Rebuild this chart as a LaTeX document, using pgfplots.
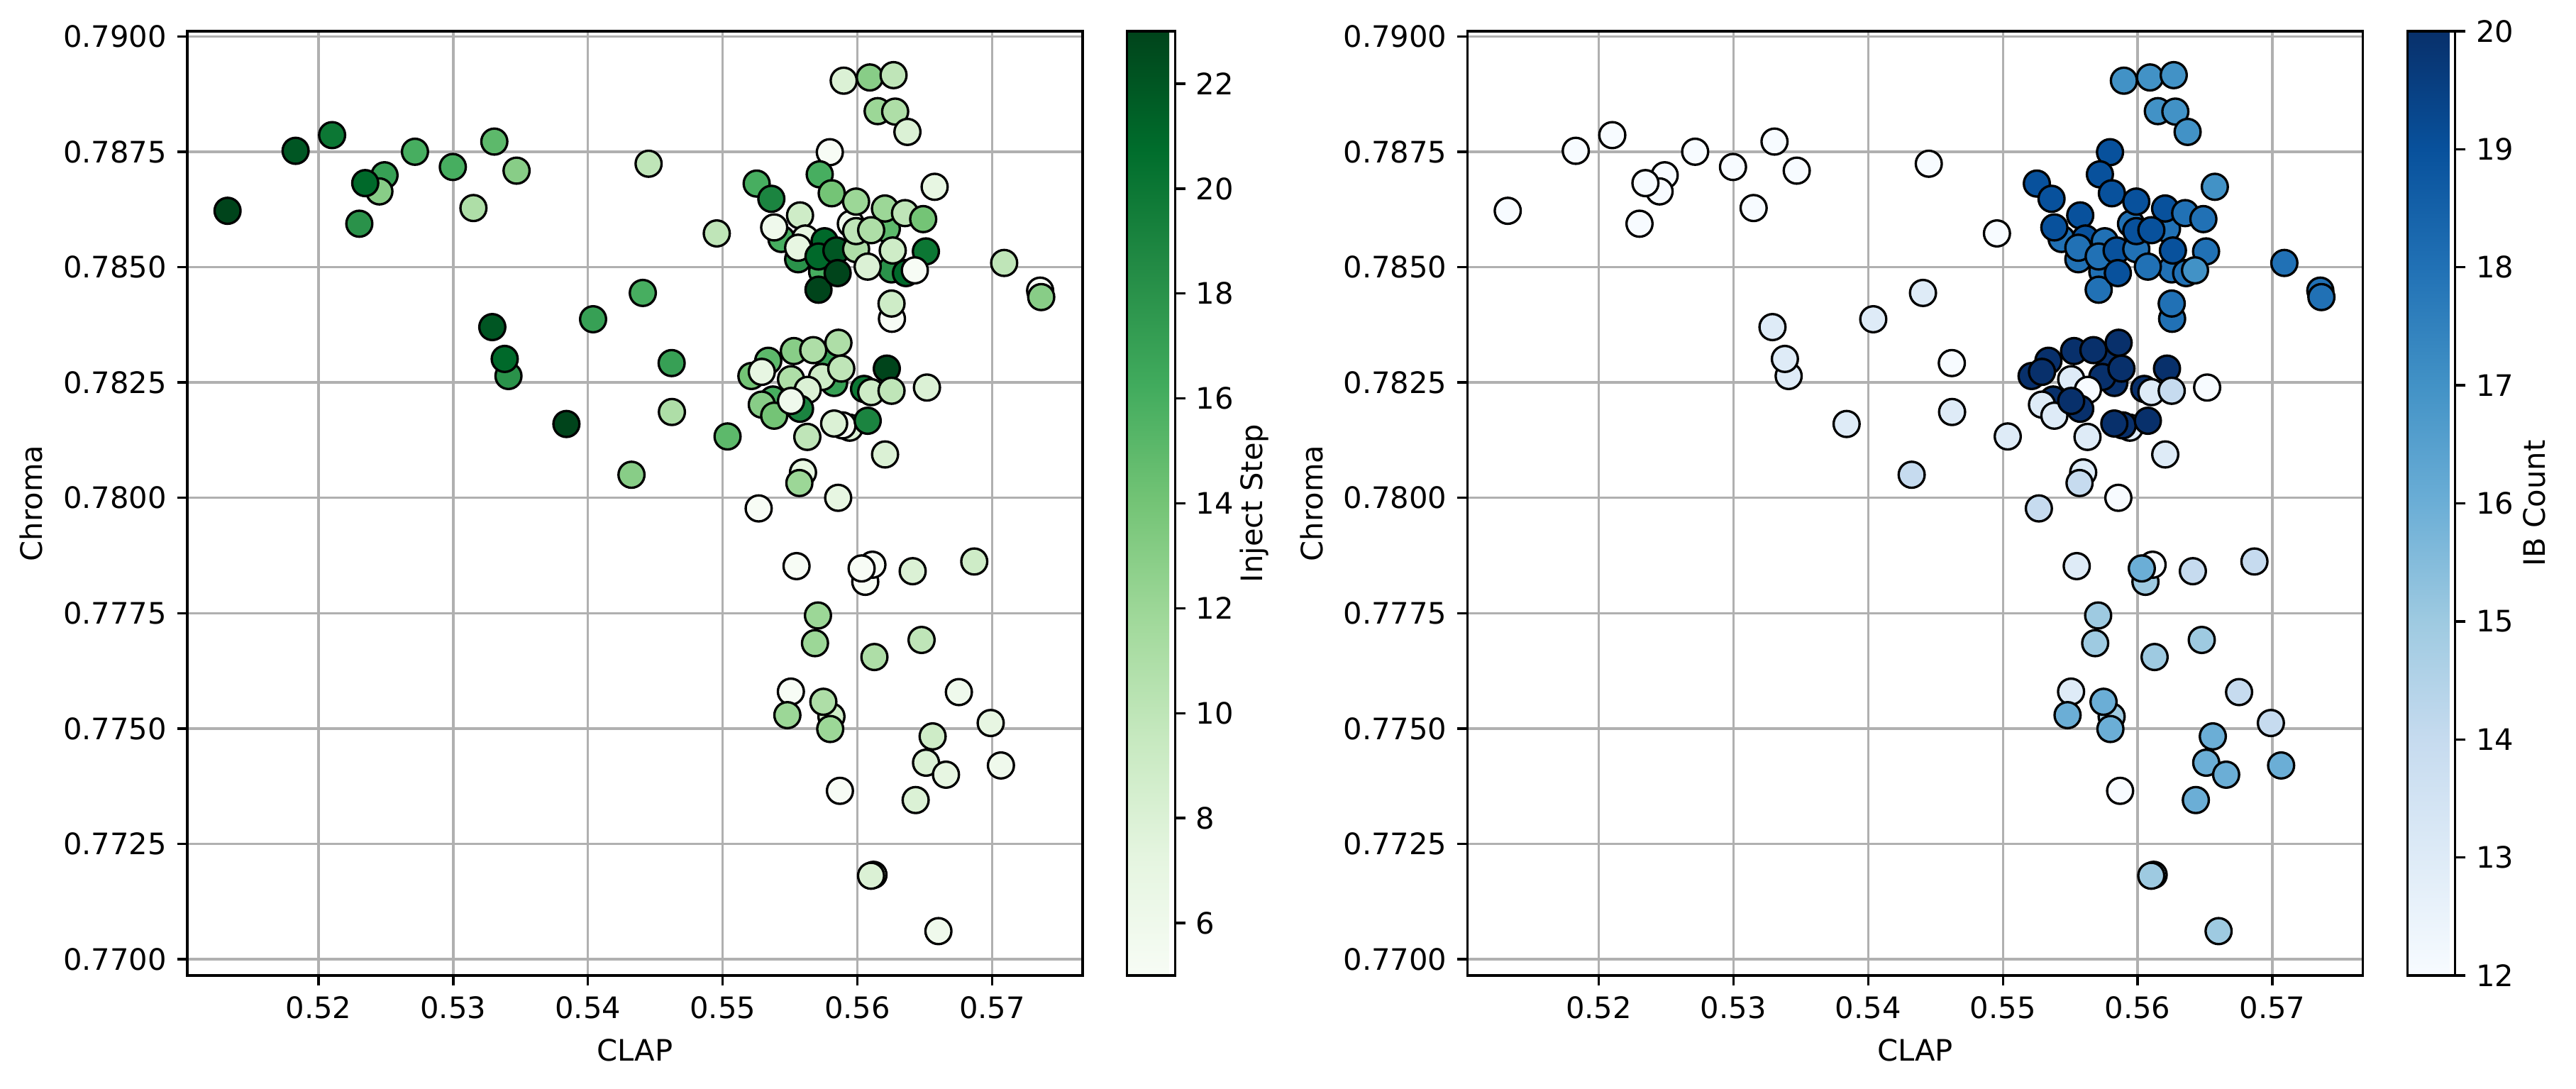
\documentclass[border=0pt]{standalone}
\usepackage{fontspec}
\setmainfont{DejaVu Sans}
\usepackage{pgfplots}
\usepackage{pgfplotstable}
\pgfplotsset{compat=1.18}

\definecolor{gridgray}{RGB}{176,176,176}

% x = CLAP, y = Chroma, inj = Inject Step, ib = IB Count
\pgfplotstableread{
x y inj ib
0.55436 0.78561 16 18
0.55560 0.78517 18 18
0.55738 0.78490 16 18
0.56218 0.78583 15 18
0.56253 0.78495 18 18
0.55951 0.78594 6 18
0.55782 0.78303 17 20
0.55827 0.78249 17 20
0.55373 0.78213 16 20
0.55942 0.78152 8 13
0.55889 0.78157 5 20
0.55807 0.77526 9 15
0.56119 0.77183 8 15
0.56058 0.77818 5 15
0.51325 0.78622 23 12
0.51830 0.78752 22 12
0.52101 0.78786 20 12
0.52716 0.78750 16 12
0.52490 0.78699 17 12
0.52452 0.78664 13 12
0.52347 0.78682 21 12
0.52303 0.78594 18 12
0.52997 0.78717 16 12
0.53305 0.78772 15 12
0.53470 0.78709 13 12
0.53150 0.78628 11 12
0.53410 0.78264 18 13
0.53382 0.78301 21 13
0.53290 0.78370 22 13
0.53840 0.78160 23 13
0.54038 0.78387 17 13
0.54407 0.78444 16 13
0.54323 0.78050 13 14
0.54450 0.78724 10 12
0.54621 0.78292 17 12
0.54623 0.78186 11 13
0.54956 0.78573 10 12
0.55036 0.78133 15 13
0.55898 0.78904 8 17
0.56092 0.78911 13 17
0.56268 0.78916 10 17
0.56150 0.78838 12 17
0.56280 0.78837 11 17
0.56371 0.78793 8 17
0.55795 0.78749 5 19
0.55720 0.78701 16 19
0.55809 0.78660 14 19
0.55252 0.78681 16 19
0.55361 0.78648 19 19
0.55990 0.78642 12 19
0.56573 0.78674 7 17
0.56204 0.78627 12 19
0.56353 0.78617 10 18
0.56488 0.78604 14 18
0.55574 0.78612 9 19
0.55382 0.78586 6 19
0.55613 0.78562 7 19
0.55560 0.78542 7 18
0.55756 0.78556 21 18
0.55711 0.78523 21 18
0.55844 0.78536 22 19
0.55711 0.78451 23 18
0.55853 0.78487 23 19
0.55990 0.78539 11 18
0.55990 0.78578 10 19
0.56102 0.78580 11 19
0.56076 0.78501 8 18
0.56262 0.78536 9 19
0.56508 0.78534 20 18
0.56360 0.78487 21 18
0.56426 0.78493 5 17
0.57089 0.78509 10 18
0.57356 0.78449 5 18
0.57364 0.78435 13 18
0.56256 0.78388 5 18
0.56253 0.78421 9 18
0.55338 0.78297 15 20
0.55528 0.78318 13 20
0.55672 0.78320 11 20
0.55859 0.78336 11 20
0.55213 0.78264 14 20
0.55290 0.78273 7 20
0.55507 0.78257 11 13
0.55738 0.78262 9 20
0.55880 0.78280 10 20
0.55631 0.78234 8 12
0.55290 0.78202 13 13
0.55382 0.78178 14 13
0.55574 0.78193 19 20
0.55507 0.78210 6 20
0.56218 0.78280 23 20
0.56049 0.78236 20 20
0.56102 0.78229 9 13
0.56253 0.78232 10 14
0.56516 0.78239 8 12
0.56076 0.78167 19 20
0.55827 0.78161 8 20
0.55628 0.78132 10 13
0.56205 0.78094 8 13
0.55596 0.78055 7 13
0.55569 0.78032 12 14
0.55857 0.78000 7 12
0.55267 0.77977 5 14
0.55548 0.77852 5 13
0.56111 0.77855 5 12
0.56031 0.77847 5 16
0.56410 0.77841 8 14
0.56867 0.77862 9 14
0.55707 0.77745 12 15
0.55685 0.77685 12 15
0.56476 0.77692 10 15
0.56126 0.77655 11 15
0.55506 0.77580 5 13
0.55747 0.77558 11 16
0.55480 0.77529 12 16
0.55798 0.77499 12 16
0.56753 0.77579 6 14
0.56989 0.77512 7 14
0.56558 0.77483 9 16
0.56509 0.77426 8 16
0.56657 0.77400 7 16
0.57065 0.77420 6 16
0.55870 0.77365 5 12
0.56432 0.77345 8 16
0.56101 0.77181 8 15
0.56601 0.77061 6 15
}\points

\pgfplotsset{
  colormap={greens}{rgb255=(247,252,245) rgb255=(229,245,224) rgb255=(199,233,192)
    rgb255=(161,217,155) rgb255=(116,196,118) rgb255=(65,171,93) rgb255=(35,139,69)
    rgb255=(0,109,44) rgb255=(0,68,27)},
  colormap={blues}{rgb255=(247,251,255) rgb255=(222,235,247) rgb255=(198,219,239)
    rgb255=(158,202,225) rgb255=(107,174,214) rgb255=(66,146,198) rgb255=(33,113,181)
    rgb255=(8,81,156) rgb255=(8,48,107)},
  panel/.style={
    scale only axis, width=302.9pt, height=319.4pt,
    xmin=0.51027, xmax=0.57672, ymin=0.76965, ymax=0.79011,
    grid=major, major grid style={gridgray, line width=0.8pt},
    axis line style={line width=0.8pt},
    tick align=outside, major tick length=3.5pt,
    every tick/.style={black, line width=0.8pt},
    xtick pos=lower, ytick pos=left,
    xtick={0.52,0.53,0.54,0.55,0.56,0.57},
    ytick={0.77,0.7725,0.775,0.7775,0.78,0.7825,0.785,0.7875,0.79},
    xticklabel style={/pgf/number format/fixed, /pgf/number format/fixed zerofill,
      /pgf/number format/precision=2},
    yticklabel style={/pgf/number format/fixed, /pgf/number format/fixed zerofill,
      /pgf/number format/precision=4},
    scaled ticks=false,
    /pgf/number format/assume math mode=true,
    tick label style={font=\fontsize{10}{12}\selectfont},
    label style={font=\fontsize{10}{12}\selectfont},
    xlabel={CLAP}, ylabel={Chroma},
    colorbar,
  },
  cbar/.style={
    at={(parent axis.north east)}, anchor=north west, xshift=6.5pt,
    scale only axis, width=16.2pt, height=319.4pt,
    axis line style={line width=0.8pt},
    tick align=outside, major tick length=3.5pt,
    every tick/.style={black, line width=0.8pt},
    ytick pos=right, yticklabel pos=right,
    /pgf/number format/assume math mode=true,
    tick label style={font=\fontsize{10}{12}\selectfont},
    every axis y label/.style={at={(axis description cs:2.65,0.5)}, rotate=90,
      anchor=center, font=\fontsize{10}{12}\selectfont},
  },
  pts/.style={
    scatter, only marks, mark=*, mark size=4.4pt, line width=0.8pt,
    point meta=explicit,
    scatter/use mapped color={draw=black, fill=mapped color},
  },
}

\begin{document}
\begin{tikzpicture}
\begin{axis}[panel, at={(0pt,0pt)}, anchor=south west,
  colormap name=greens, point meta min=5, point meta max=23,
  colorbar style={cbar, ytick={6,8,...,22}, ylabel={Inject Step}}]
  \addplot[pts] table[x=x, y=y, meta=inj] {\points};
\end{axis}
\begin{axis}[panel, at={(433.1pt,0pt)}, anchor=south west,
  colormap name=blues, point meta min=12, point meta max=20,
  colorbar style={cbar, ytick={12,13,...,20}, ylabel={IB Count}}]
  \addplot[pts] table[x=x, y=y, meta=ib] {\points};
\end{axis}
\pgfresetboundingbox
\path[use as bounding box] (-63.4pt,-38.2pt) rectangle (808.1pt,330.0pt);
\end{tikzpicture}
\end{document}
